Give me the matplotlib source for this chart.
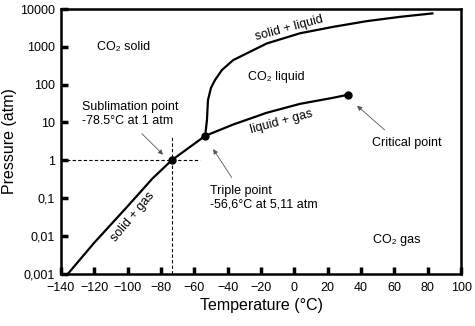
import matplotlib
matplotlib.use('Agg')
import matplotlib.pyplot as plt

plt.rcParams['font.family'] = ['Liberation Sans', 'DejaVu Sans']

# boundary curves
subl_t = [-135.6, -120, -100, -85, -73.5, -53.5]
subl_p = [0.001, 0.0065, 0.06, 0.33, 1.0, 4.4]

vap_t = [-53.5, -36.7, -16.6, 3.3, 23.3, 32.0]
vap_p = [4.4, 8.8, 18, 31, 45, 54]

melt_t = [-53.5, -52.4, -51.8, -50.0, -47.6, -43.4, -36.7, -16.6, 3.3, 23.3, 43.3, 63.3, 82.7]
melt_p = [4.4, 11.5, 39, 82, 132, 245, 447, 1230, 2290, 3400, 4800, 6250, 7700]

# marked points: sublimation, triple, critical
pts_t = [-73.5, -53.5, 32.0]
pts_p = [1.0, 4.4, 54]

xticks = [-140, -120, -100, -80, -60, -40, -20, 0, 20, 40, 60, 80, 100]
yticks = [0.001, 0.01, 0.1, 1, 10, 100, 1000, 10000]
ylabels = ['0,001', '0,01', '0,1', '1', '10', '100', '1000', '10000']

fig = plt.figure(figsize=(4.75, 3.26), dpi=100)
ax = fig.add_axes([0.128, 0.161, 0.843, 0.811])

ax.plot(subl_t, subl_p, color='black', lw=1.6)
ax.plot(vap_t, vap_p, color='black', lw=1.6)
ax.plot(melt_t, melt_p, color='black', lw=1.6)
ax.plot(pts_t, pts_p, 'o', color='black', ms=5)

# dashed guide lines through the sublimation point
ax.plot([-140, -56.6], [1, 1], color='black', lw=0.8, ls=(0, (3, 2)))
ax.plot([-73.5, -73.5], [0.001, 4.4], color='black', lw=0.8, ls=(0, (3, 2)))

ax.set_yscale('log')
ax.set_xlim(-140, 100)
ax.set_ylim(0.001, 10000)
ax.set_xticks(xticks)
ax.set_yticks(yticks)
ax.set_yticklabels(ylabels)
ax.minorticks_off()
ax.tick_params(direction='in', length=5, width=2.5, labelsize=9, pad=4)
ax.tick_params(axis='x', pad=6)
for s in ax.spines.values():
    s.set_linewidth(1.8)

ax.set_xlabel('Temperature (°C)', fontsize=11.5, labelpad=3)
ax.set_ylabel('Pressure (atm)', fontsize=11.5, labelpad=2)

fs = 9
ax.text(-118.4, 1000, 'CO₂ solid', fontsize=fs, va='center')
ax.text(-27.9, 158, 'CO₂ liquid', fontsize=fs, va='center')
ax.text(46.9, 0.0078, 'CO₂ gas', fontsize=fs, va='center')
ax.text(-3.3, 3160, 'solid + liquid', fontsize=fs, rotation=15, ha='center', va='center')
ax.text(-7.5, 10.3, 'liquid + gas', fontsize=fs, rotation=15, ha='center', va='center')
ax.text(-96.8, 0.032, 'solid + gas', fontsize=fs, rotation=50, ha='center', va='center')

arrow = dict(arrowstyle='-|>', color='#555555', lw=0.6, mutation_scale=7)

ax.text(-127, 17, 'Sublimation point\n-78.5°C at 1 atm', fontsize=fs, va='center')
ax.annotate('', xy=(-77.5, 1.24), xytext=(-92.6, 5.7), arrowprops=arrow)

ax.text(-50.6, 0.1, 'Triple point\n-56,6°C at 5,11 atm', fontsize=fs, va='center')
ax.annotate('', xy=(-49.6, 2.27), xytext=(-36.6, 0.3), arrowprops=arrow)

ax.text(46.3, 2.9, 'Critical point', fontsize=fs, va='center')
ax.annotate('', xy=(36.3, 31), xytext=(55.3, 5.7), arrowprops=arrow)

fig.savefig('out.png', dpi=100)
